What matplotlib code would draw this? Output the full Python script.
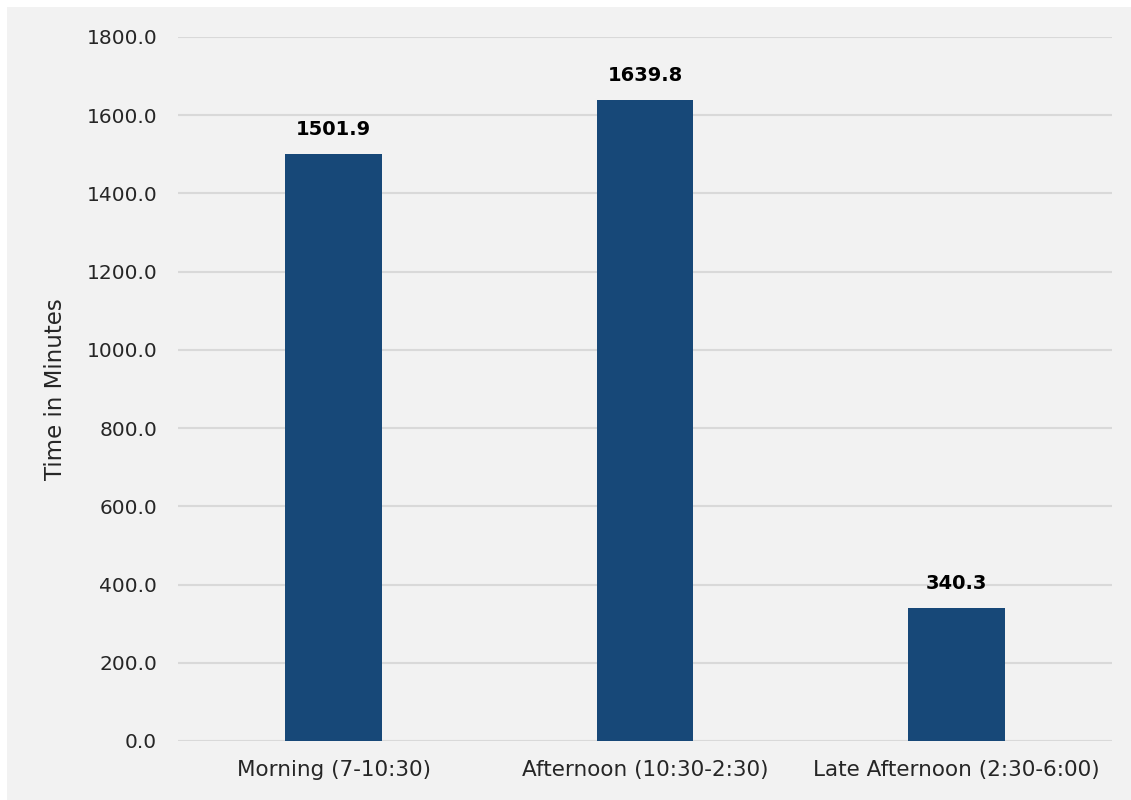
import matplotlib.pyplot as plt
from matplotlib.patches import Rectangle

# time of day categories and totals
categories = ['Morning (7-10:30)', 'Afternoon (10:30-2:30)', 'Late Afternoon (2:30-6:00)']
minutes = [1501.9, 1639.8, 340.3]
y_ticks = [0, 200, 400, 600, 800, 1000, 1200, 1400, 1600, 1800]

fig = plt.figure(figsize=(11.31, 8), dpi=100, facecolor='#f2f2f2')
# thin white margin on top and left
fig.patches.append(Rectangle((0, 793 / 800), 1, 7 / 800, transform=fig.transFigure,
                             facecolor='white', edgecolor='none'))
fig.patches.append(Rectangle((0, 0), 7 / 1131, 1, transform=fig.transFigure,
                             facecolor='white', edgecolor='none'))
ax = fig.add_axes([0.1574, 0.07375, 0.8258, 0.88])
ax.set_facecolor('none')

x = range(len(categories))
bars = ax.bar(x, minutes, width=0.31, color='#174878', zorder=3)
for b, v in zip(bars, minutes):
    ax.text(b.get_x() + b.get_width() / 2, v + 38, f'{v:.1f}', ha='center', va='bottom',
            fontsize=14, fontweight='bold', color='black')

ax.set_xlim(-0.5, 2.5)
ax.set_ylim(0, 1800)
ax.set_yticks(y_ticks)
ax.set_yticklabels([f'{t:.1f}' for t in y_ticks], fontsize=14.5, color='#262626')
ax.set_xticks(list(x))
ax.set_xticklabels(categories, fontsize=15.5, color='#262626')
ax.tick_params(axis='y', length=0, pad=15)
ax.tick_params(axis='x', length=0, pad=14)
ax.grid(axis='y', color='#d9d9d9', linewidth=1.5, zorder=0)
for s in ax.spines.values():
    s.set_visible(False)
ax.set_ylabel('Time in Minutes', fontsize=16.5, color='#262626', labelpad=14)

plt.savefig('out.png', dpi=100, facecolor=fig.get_facecolor())
